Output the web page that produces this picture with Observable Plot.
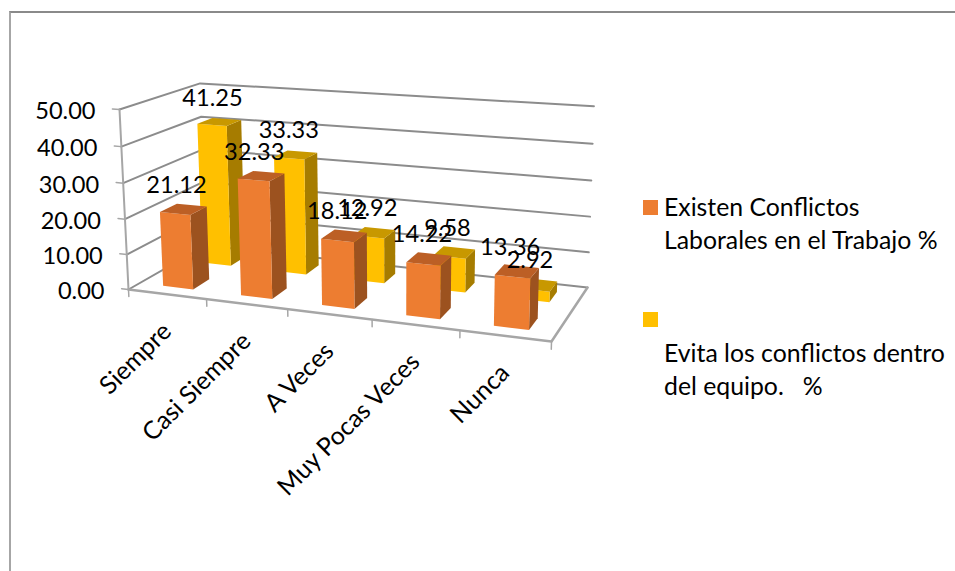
<!DOCTYPE html>
<html lang="es">
<head>
<meta charset="utf-8">
<script src="https://cdn.jsdelivr.net/npm/d3@7"></script>
<script src="https://cdn.jsdelivr.net/npm/@observablehq/plot@0.6"></script>
<style>
  html, body { margin: 0; padding: 0; background: #fff; overflow: hidden; }
  #page { position: relative; width: 955px; height: 571px; font-family: Lato, sans-serif; color: #000; }
  #frame { position: absolute; left: 9px; top: 11px; right: 0; bottom: 0; border-top: 2px solid #8a8a8a; border-left: 2px solid #a6a6a6; }
  #chart { position: absolute; left: 0; top: 0; }
  #legend { position: absolute; left: 0; top: 0; font-size: 24.8px; line-height: 33px; }
  #legend .swatch { position: absolute; left: 643px; width: 15px; height: 15px; }
  #legend .entry { position: absolute; left: 664px; white-space: pre; }
</style>
</head>
<body>
<div id="page">
  <div id="frame"></div>
  <div id="chart"></div>
  <div id="legend">
    <span class="swatch" style="top:200px;background:#ED7D31"></span>
    <span class="entry" style="top:190px">Existen Conflictos
Laborales en el Trabajo %</span>
    <span class="swatch" style="top:312px;background:#FFC000"></span>
    <span class="entry" style="top:336px">Evita los conflictos dentro
del equipo.   %</span>
  </div>
</div>
<script>
// Survey results, in percent
const categories = ["Siempre", "Casi Siempre", "A Veces", "Muy Pocas Veces", "Nunca"];
const conflictos = [21.12, 32.33, 18.12, 14.22, 13.36];
const evita = [41.25, 33.33, 12.92, 9.58, 2.92];
const valueTicks = [0, 10, 20, 30, 40, 50];

// Perspective camera: u runs along the categories, v into the depth, val up the value axis
const maxValue = 50;
const cam = {a: 370.79, b: 100.83, c: 128, d: 19.69, e: -15.52, f: 289, g: -0.09476, h: 0.11626,
             tx: -13.4, txu: -2, ty: -184, tyu: -5, tw: -0.037};
function project(u, v, val) {
  const t = val / maxValue;
  const w = cam.g * u + cam.h * v + 1 + cam.tw * t;
  return {
    px: (cam.a * u + cam.b * v + cam.c + (cam.tx + cam.txu * u) * t) / w,
    py: (cam.d * u + cam.e * v + cam.f + (cam.ty + cam.tyu * u) * t) / w
  };
}

// Bar footprint inside a category cell and depth row
const n = categories.length;
const halfWidth = 0.039;
const rows = [
  {values: evita, v0: 0.645, v1: 0.85, front: "#FFC000", side: "#A67C00", top: "#C89800"},
  {values: conflictos, v0: 0.135, v1: 0.345, front: "#ED7D31", side: "#9C521F", top: "#BC5F25"}
];

function polygon(id, fill, corners) {
  return corners.map(([u, v, val]) => ({id, fill, ...project(u, v, val)}));
}

// Painter's order: the back row first, then the front row, each from left to right
const faces = rows.flatMap((r, ri) => r.values.flatMap((val, i) => {
  const uc = (i + 0.5) / n, u0 = uc - halfWidth, u1 = uc + halfWidth;
  return [
    ...polygon(`s${ri}-${i}`, r.side, [[u1, r.v0, 0], [u1, r.v1, 0], [u1, r.v1, val], [u1, r.v0, val]]),
    ...polygon(`f${ri}-${i}`, r.front, [[u0, r.v0, 0], [u1, r.v0, 0], [u1, r.v0, val], [u0, r.v0, val]]),
    ...polygon(`t${ri}-${i}`, r.top, [[u0, r.v0, val], [u1, r.v0, val], [u1, r.v1, val], [u0, r.v1, val]])
  ];
}));

// Gridlines run along the side wall and then along the back wall
const grid = valueTicks.flatMap((val) =>
  [[0, 0], [0, 1], [1, 1]].map(([u, v]) => ({id: val, ...project(u, v, val)}))
);
const floorEdge = [[0, 0], [1, 0], [1, 1]].map(([u, v]) => project(u, v, 0));
const valueAxis = [0, maxValue].map((val) => project(0, 0, val));

const valueTickMarks = valueTicks.flatMap((val) =>
  [0, -0.018].map((u) => ({id: val, ...project(u, 0, val)}))
);
const categoryTickMarks = d3.range(n + 1).flatMap((i) =>
  [0, -2].map((val) => ({id: i, ...project(i / n, 0, val)}))
);

const valueLabels = valueTicks.map((val) => ({text: val.toFixed(2), ...project(0, 0, val)}));
const categoryLabels = categories.map((text, i) => ({text, ...project((i + 0.5) / n, 0, 0)}));
const barLabels = [rows[1], rows[0]].flatMap((r) => r.values.map((val, i) => ({
  text: val.toFixed(2),
  ...project((i + 0.5) / n, (r.v0 + r.v1) / 2, val)
})));

const fontFamily = "Lato, sans-serif";
const numberFont = {fontFamily, fontSize: 23.6, fill: "#000"};
const nameFont = {fontFamily, fontSize: 25, fill: "#000"};

const chart = Plot.plot({
  width: 955,
  height: 571,
  margin: 0,
  style: {background: "transparent"},
  x: {domain: [0, 955], range: [0, 955], axis: null},
  y: {domain: [0, 571], range: [0, 571], axis: null},
  color: {type: "identity"},
  marks: [
    Plot.line(grid, {x: "px", y: "py", z: "id", stroke: "#8c8c8c", strokeWidth: 2, curve: "linear"}),
    Plot.line(valueTickMarks, {x: "px", y: "py", z: "id", stroke: "#a6a6a6", strokeWidth: 1.5}),
    Plot.line(categoryTickMarks, {x: "px", y: "py", z: "id", stroke: "#a6a6a6", strokeWidth: 1.5}),
    Plot.line(valueAxis, {x: "px", y: "py", stroke: "#a6a6a6", strokeWidth: 2}),
    Plot.line(floorEdge, {x: "px", y: "py", stroke: "#a6a6a6", strokeWidth: 2.5}),
    Plot.line(faces, {x: "px", y: "py", z: "id", fill: "fill", stroke: "none"}),
    Plot.text(valueLabels, {x: "px", y: "py", text: "text", textAnchor: "end", dx: -24, dy: 2, ...numberFont}),
    Plot.text(categoryLabels, {x: "px", y: "py", text: "text", textAnchor: "end", rotate: -45, dx: 0, dy: 33, ...nameFont}),
    Plot.text(barLabels, {x: "px", y: "py", text: "text", dx: -7, dy: -24, ...numberFont})
  ]
});
document.getElementById("chart").append(chart);
</script>
</body>
</html>
